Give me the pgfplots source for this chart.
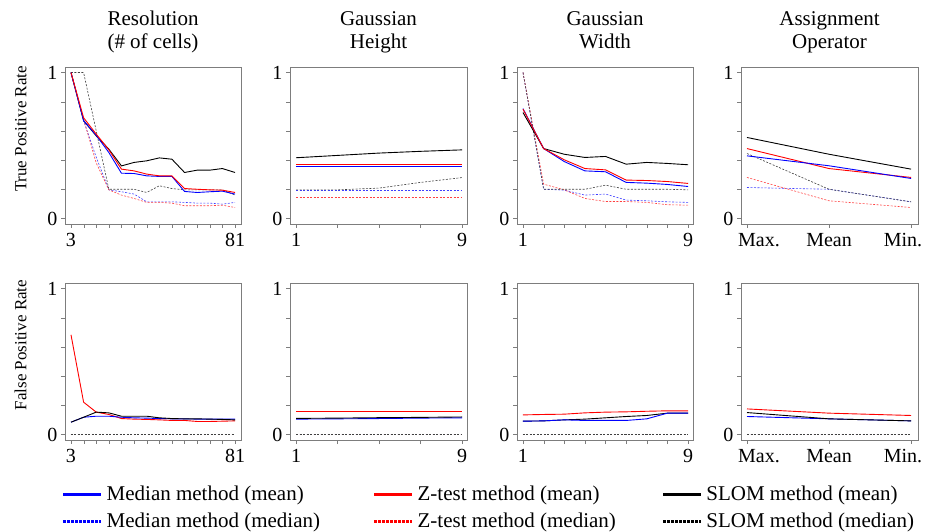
\documentclass[border=0pt]{standalone}
\usepackage{fontspec}
\setmainfont{Liberation Serif}
\usepackage{pgfplots}
\pgfplotsset{compat=1.18}

\definecolor{axgray}{RGB}{125,125,125}

\pgfplotsset{
  every axis title/.style={at={(0.5,1)}, anchor=south, inner sep=0pt,
    text depth=0pt, yshift=18pt, align=center,
    font=\fontsize{21}{23}\selectfont},
  side label/.style={extra description/.code={
    \node[rotate=90, anchor=base, inner sep=0pt]
      at (rel axis cs:-0.22,0.605) {\fontsize{17}{20}\selectfont #1};}},
  panel/.style={
    scale only axis, anchor=south west, height=157pt,
    ymin=-0.038, ymax=1.038,
    ytick={0,0.2,0.4,0.6,0.8,1}, yticklabels={0,,,,,1},
    tick align=outside, xtick pos=bottom, ytick pos=left,
    major tick length=4pt,
    axis line style={axgray}, tick style={axgray},
    tick label style={font=\fontsize{20}{24}\selectfont},
    xticklabel style={yshift=-2pt},
  },
  c1/.style={panel, width=176pt, xmin=0.15, xmax=83.85,
    xtick={3,9,15,21,27,33,39,45,51,57,63,69,75,81},
    xticklabels={3,,,,,,,,,,,,,81}},
  c2/.style={panel, width=177pt, xmin=0.71, xmax=9.24,
    xtick={1,3,5,7,9}, xticklabels={1,,,,9}},
  c3/.style={panel, width=176pt, xmin=0.71, xmax=9.24,
    xtick={1,2,3,4,5,6,7,8,9}, xticklabels={1,,,,,,,,9}},
  c4/.style={panel, width=177pt, xmin=-0.073, xmax=2.085,
    xtick={0,1,2}, xticklabels={\hspace*{24pt}Max.,Mean,Min.\hspace*{16pt}}},
  mm/.style={blue, line width=0.9pt},
  zm/.style={red, line width=0.9pt},
  sm/.style={black, line width=0.9pt},
  md/.style={blue!75, line width=0.6pt, dash pattern=on 2pt off 1.5pt},
  zd/.style={red!75, line width=0.6pt, dash pattern=on 2pt off 1.5pt},
  sd/.style={black!75, line width=0.6pt, dash pattern=on 2pt off 1.5pt},
}

\begin{document}
\begin{tikzpicture}
\useasboundingbox (0,0) rectangle (925pt,532pt);

% ---- top row: true positive rate ----
\begin{axis}[c1, at={(65pt,308pt)}, title={Resolution\\(\# of cells)}, side label={True Positive Rate}]
\addplot[md] coordinates {(3,1)(9,0.67)(15,0.42)(21,0.196)(27,0.183)(33,0.167)(39,0.114)(45,0.114)(51,0.114)(57,0.11)(63,0.105)(69,0.105)(75,0.098)(81,0.11)};
\addplot[zd] coordinates {(3,1)(9,0.68)(15,0.38)(21,0.196)(27,0.16)(33,0.137)(39,0.11)(45,0.11)(51,0.105)(57,0.087)(63,0.087)(69,0.087)(75,0.091)(81,0.075)};
\addplot[sd] coordinates {(3,1)(9,1)(15,0.6)(21,0.2)(27,0.2)(33,0.2)(39,0.178)(45,0.224)(51,0.205)(57,0.196)(63,0.196)(69,0.196)(75,0.196)(81,0.16)};
\addplot[sm] coordinates {(3,1)(9,0.67)(15,0.566)(21,0.475)(27,0.36)(33,0.384)(39,0.395)(45,0.415)(51,0.406)(57,0.315)(63,0.331)(69,0.331)(75,0.342)(81,0.315)};
\addplot[mm] coordinates {(3,1)(9,0.67)(15,0.57)(21,0.452)(27,0.31)(33,0.308)(39,0.292)(45,0.288)(51,0.288)(57,0.185)(63,0.178)(69,0.183)(75,0.187)(81,0.167)};
\addplot[zm] coordinates {(3,1)(9,0.69)(15,0.578)(21,0.47)(27,0.338)(33,0.326)(39,0.304)(45,0.292)(51,0.292)(57,0.205)(63,0.2)(69,0.196)(75,0.194)(81,0.178)};
\end{axis}

\begin{axis}[c2, at={(290pt,308pt)}, title={Gaussian\\Height}]
\addplot[md] coordinates {(1,0.194)(3,0.194)(5,0.194)(7,0.194)(9,0.194)};
\addplot[zd] coordinates {(1,0.148)(3,0.148)(5,0.148)(7,0.148)(9,0.148)};
\addplot[sd] coordinates {(1,0.196)(3,0.196)(5,0.208)(7,0.247)(9,0.28)};
\addplot[sm] coordinates {(1,0.416)(3,0.432)(5,0.448)(7,0.46)(9,0.47)};
\addplot[zm] coordinates {(1,0.37)(3,0.37)(5,0.37)(7,0.37)(9,0.37)};
\addplot[mm] coordinates {(1,0.356)(3,0.356)(5,0.356)(7,0.356)(9,0.356)};
\end{axis}

\begin{axis}[c3, at={(517pt,308pt)}, title={Gaussian\\Width}]
\addplot[md] coordinates {(1,1)(2,0.2)(3,0.194)(4,0.16)(5,0.167)(6,0.126)(7,0.121)(8,0.114)(9,0.11)};
\addplot[zd] coordinates {(1,1)(2,0.235)(3,0.196)(4,0.137)(5,0.116)(6,0.116)(7,0.11)(8,0.094)(9,0.091)};
\addplot[sd] coordinates {(1,1)(2,0.2)(3,0.2)(4,0.2)(5,0.228)(6,0.2)(7,0.2)(8,0.2)(9,0.196)};
\addplot[sm] coordinates {(1,0.726)(2,0.479)(3,0.44)(4,0.418)(5,0.425)(6,0.372)(7,0.384)(8,0.377)(9,0.368)};
\addplot[mm] coordinates {(1,0.753)(2,0.479)(3,0.39)(4,0.326)(5,0.32)(6,0.247)(7,0.242)(8,0.233)(9,0.219)};
\addplot[zm] coordinates {(1,0.749)(2,0.479)(3,0.402)(4,0.342)(5,0.333)(6,0.263)(7,0.26)(8,0.253)(9,0.24)};
\end{axis}

\begin{axis}[c4, at={(741pt,308pt)}, title={Assignment\\Operator}]
\addplot[md] coordinates {(0,0.212)(1,0.2)(2,0.114)};
\addplot[zd] coordinates {(0,0.281)(1,0.121)(2,0.075)};
\addplot[sd] coordinates {(0,0.445)(1,0.2)(2,0.114)};
\addplot[sm] coordinates {(0,0.555)(1,0.44)(2,0.338)};
\addplot[zm] coordinates {(0,0.479)(1,0.342)(2,0.281)};
\addplot[mm] coordinates {(0,0.429)(1,0.361)(2,0.274)};
\end{axis}

% ---- bottom row: false positive rate ----
\begin{axis}[c1, at={(65pt,92pt)}, side label={False Positive Rate}]
\addplot[md] coordinates {(3,0)(81,0)};
\addplot[zd] coordinates {(3,0)(81,0)};
\addplot[sd] coordinates {(3,0)(9,0)(15,0)(21,0)(27,0)(33,0)(39,0)(45,0)(51,0)(57,0)(63,0)(69,0)(75,0)(81,0)};
\addplot[zm] coordinates {(3,0.683)(9,0.221)(15,0.153)(21,0.137)(27,0.109)(33,0.105)(39,0.103)(45,0.1)(51,0.096)(57,0.096)(63,0.089)(69,0.089)(75,0.091)(81,0.093)};
\addplot[mm] coordinates {(3,0.084)(9,0.118)(15,0.125)(21,0.125)(27,0.118)(33,0.114)(39,0.112)(45,0.109)(51,0.107)(57,0.107)(63,0.105)(69,0.105)(75,0.105)(81,0.105)};
\addplot[sm] coordinates {(3,0.084)(9,0.118)(15,0.153)(21,0.148)(27,0.125)(33,0.125)(39,0.125)(45,0.114)(51,0.109)(57,0.107)(63,0.107)(69,0.105)(75,0.103)(81,0.1)};
\end{axis}

\begin{axis}[c2, at={(290pt,92pt)}]
\addplot[md] coordinates {(1,0)(9,0)};
\addplot[zd] coordinates {(1,0)(9,0)};
\addplot[sd] coordinates {(1,0)(3,0)(5,0)(7,0)(9,0)};
\addplot[mm] coordinates {(1,0.105)(3,0.107)(5,0.109)(7,0.112)(9,0.114)};
\addplot[sm] coordinates {(1,0.11)(3,0.112)(5,0.115)(7,0.117)(9,0.12)};
\addplot[zm] coordinates {(1,0.155)(3,0.155)(5,0.155)(7,0.155)(9,0.155)};
\end{axis}

\begin{axis}[c3, at={(517pt,92pt)}]
\addplot[md] coordinates {(1,0)(9,0)};
\addplot[zd] coordinates {(1,0)(9,0)};
\addplot[sd] coordinates {(1,0)(2,0)(3,0)(4,0)(5,0)(6,0)(7,0)(8,0)(9,0)};
\addplot[zm] coordinates {(1,0.134)(2,0.137)(3,0.139)(4,0.148)(5,0.153)(6,0.155)(7,0.159)(8,0.162)(9,0.162)};
\addplot[sm] coordinates {(1,0.091)(2,0.093)(3,0.1)(4,0.105)(5,0.114)(6,0.123)(7,0.13)(8,0.146)(9,0.146)};
\addplot[mm] coordinates {(1,0.091)(2,0.093)(3,0.1)(4,0.096)(5,0.096)(6,0.096)(7,0.107)(8,0.146)(9,0.146)};
\end{axis}

\begin{axis}[c4, at={(741pt,92pt)}]
\addplot[md] coordinates {(0,0)(2,0)};
\addplot[zd] coordinates {(0,0)(2,0)};
\addplot[sd] coordinates {(0,0)(1,0)(2,0)};
\addplot[zm] coordinates {(0,0.175)(1,0.146)(2,0.13)};
\addplot[mm] coordinates {(0,0.123)(1,0.107)(2,0.093)};
\addplot[sm] coordinates {(0,0.15)(1,0.107)(2,0.093)};
\end{axis}

% ---- legend ----
\begin{axis}[at={(0pt,0pt)}, anchor=south west, scale only axis,
  width=925pt, height=532pt, hide axis,
  xmin=0, xmax=1, ymin=0, ymax=1,
  legend columns=3,
  legend image code/.code={\draw[#1] (0pt,0pt) -- (38pt,0pt);},
  legend style={at={(0.067,0.0902)}, anchor=north west, draw=none, fill=none,
    inner sep=0pt, row sep=7pt,
    font=\fontsize{21}{24}\selectfont,
    /tikz/every odd column/.append style={column sep=2pt},
    /tikz/column 2/.append style={column sep=51pt},
    /tikz/column 4/.append style={column sep=44pt}},
  legend cell align=left]
\addlegendimage{blue, line width=2.5pt}
\addlegendentry{Median method (mean)}
\addlegendimage{red, line width=2.5pt}
\addlegendentry{Z-test method (mean)}
\addlegendimage{black, line width=2.5pt}
\addlegendentry{SLOM method (mean)}
\addlegendimage{blue, line width=2.5pt, dash pattern=on 2.5pt off 1.5pt}
\addlegendentry{Median method (median)}
\addlegendimage{red, line width=2.5pt, dash pattern=on 2.5pt off 1.5pt}
\addlegendentry{Z-test method (median)}
\addlegendimage{black, line width=2.5pt, dash pattern=on 2.5pt off 1.5pt}
\addlegendentry{SLOM method (median)}
\end{axis}
\end{tikzpicture}
\end{document}
